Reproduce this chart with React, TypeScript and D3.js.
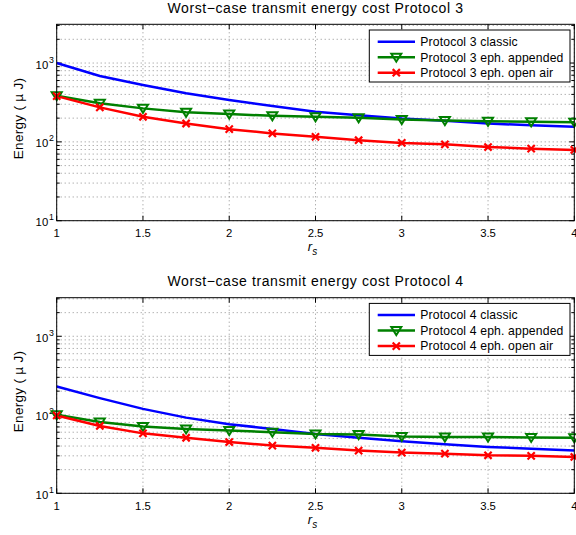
import * as d3 from "d3";

const rs = [1, 1.25, 1.5, 1.75, 2, 2.25, 2.5, 2.75, 3, 3.25, 3.5, 3.75, 4];

// Protocol 3 (micro J)
const p3Classic = [1000, 685, 526, 413, 340, 285, 241, 218, 198, 185, 171, 162, 155];
const p3Appended = [385, 308, 266, 237, 225, 214, 208, 202, 192, 186, 182, 180, 178];
const p3OpenAir = [380, 274, 208, 171, 145, 128, 116, 105, 97, 93, 86, 82, 79];

// Protocol 4 (micro J)
const p4Classic = [229, 163, 119, 92, 76, 66, 57, 51, 46, 42, 39, 37, 35];
const p4Appended = [100, 81, 71, 66, 63, 60, 57, 56, 53, 52, 52, 51.5, 51];
const p4OpenAir = [98, 72, 58, 51, 45, 40.5, 38, 35, 33, 32, 30.5, 30, 29];

const xTicks = [1, 1.5, 2, 2.5, 3, 3.5, 4];
const yDecades = [1, 2, 3];
const font = "'Liberation Sans', Arial, sans-serif";

type Series = { name: string; values: number[]; color: string; marker: "none" | "tri" | "x" };

function Panel({ top, bottom, title, series, clipId }: { top: number; bottom: number; title: string; series: Series[]; clipId: string }) {
  const left = 56.7;
  const right = 574.3;
  const x = d3.scaleLinear().domain([1, 4]).range([left, right]);
  const y = d3.scaleLog().domain([10, 3100]).range([bottom, top]);
  const line = d3.line<number>().x((_, i) => x(rs[i])).y((v) => y(v));

  const minor: number[] = [];
  for (let e = 1; e <= 3; e++) for (let m = 2; m <= 9; m++) {
    const v = m * Math.pow(10, e);
    if (v <= 3100) minor.push(v);
  }
  const majors = yDecades.map((e) => Math.pow(10, e));
  const cx = (left + right) / 2;
  const legX = 369.3, legY = top + 5.7, legW = 200.7, legH = 52;

  const marker = (s: Series, px: number, py: number, key: string) => {
    if (s.marker === "tri") {
      const r = 5;
      return <path key={key} d={`M${px - r},${py - r * 0.7}L${px + r},${py - r * 0.7}L${px},${py + r * 0.9}Z`} fill="none" stroke={s.color} strokeWidth={2} />;
    }
    if (s.marker === "x") {
      const r = 3.6;
      return <path key={key} d={`M${px - r},${py - r}L${px + r},${py + r}M${px - r},${py + r}L${px + r},${py - r}`} stroke={s.color} strokeWidth={2.2} />;
    }
    return null;
  };

  return (
    <g fontFamily={font}>
      <defs>
        <clipPath id={clipId}>
          <rect x={left} y={top} width={right - left} height={bottom - top} />
        </clipPath>
      </defs>
      <rect x={left} y={top} width={right - left} height={bottom - top} fill="#fff" />
      {/* grid */}
      {xTicks.map((t) => (
        <line key={"gx" + t} x1={x(t)} x2={x(t)} y1={top} y2={bottom} stroke="#444" strokeWidth={0.6} strokeDasharray="1,3" />
      ))}
      {[...minor, ...majors].map((v) => (
        <line key={"gy" + v} x1={left} x2={right} y1={y(v)} y2={y(v)} stroke="#444" strokeWidth={0.6} strokeDasharray="1,3" />
      ))}
      {/* ticks */}
      {xTicks.map((t) => (
        <g key={"tx" + t}>
          <line x1={x(t)} x2={x(t)} y1={bottom} y2={bottom - 5} stroke="#000" />
          <line x1={x(t)} x2={x(t)} y1={top} y2={top + 5} stroke="#000" />
          <text x={x(t)} y={bottom + 16.5} fontSize={11.3} textAnchor="middle">{t}</text>
        </g>
      ))}
      {majors.map((v) => (
        <g key={"ty" + v}>
          <line x1={left} x2={left + 5} y1={y(v)} y2={y(v)} stroke="#000" />
          <line x1={right} x2={right - 5} y1={y(v)} y2={y(v)} stroke="#000" />
        </g>
      ))}
      {minor.map((v) => (
        <g key={"tm" + v}>
          <line x1={left} x2={left + 3} y1={y(v)} y2={y(v)} stroke="#000" />
          <line x1={right} x2={right - 3} y1={y(v)} y2={y(v)} stroke="#000" />
        </g>
      ))}
      {yDecades.map((e) => (
        <text key={"yl" + e} x={left - 8.5} y={y(Math.pow(10, e)) + 5.6} fontSize={11.3} textAnchor="end">
          10
        </text>
      ))}
      {yDecades.map((e) => (
        <text key={"ye" + e} x={left - 7.7} y={y(Math.pow(10, e)) - 0.4} fontSize={8.8}>
          {e}
        </text>
      ))}
      {/* series */}
      <g clipPath={`url(#${clipId})`}>
        {series.map((s) => (
          <path key={s.name} d={line(s.values) || ""} fill="none" stroke={s.color} strokeWidth={2.5} />
        ))}
      </g>
      {series.map((s) => s.values.map((v, i) => marker(s, x(rs[i]), y(v), s.name + i)))}
      <rect x={left} y={top} width={right - left} height={bottom - top} fill="none" stroke="#000" strokeWidth={1} />
      {/* labels */}
      <text x={cx} y={top - 11.5} fontSize={14} letterSpacing={0.6} textAnchor="middle">{title}</text>
      <text x={cx - 3} y={bottom + 30.5} fontSize={13} fontStyle="italic" textAnchor="middle">
        r<tspan fontSize={10} dy={4}>s</tspan>
      </text>
      <text transform={`translate(22.5,${(top + bottom) / 2 - 4}) rotate(-90)`} fontSize={13.5} letterSpacing={0.3} textAnchor="middle">
        Energy ( µ J)
      </text>
      {/* legend */}
      <rect x={legX} y={legY} width={legW} height={legH} fill="#fff" stroke="#000" strokeWidth={1} />
      {series.map((s, i) => {
        const ly = legY + 11.7 + i * 15.5;
        return (
          <g key={"lg" + s.name}>
            <line x1={377.7} x2={415} y1={ly} y2={ly} stroke={s.color} strokeWidth={2.5} />
            {marker(s, 396.3, ly, "lm" + i)}
            <text x={420.3} y={ly + 4.3} fontSize={12.2} letterSpacing={0.15}>{s.name}</text>
          </g>
        );
      })}
    </g>
  );
}

export default function App() {
  const blue = "#0000ff", green = "#008000", red = "#ff0000";
  const s3: Series[] = [
    { name: "Protocol 3 classic", values: p3Classic, color: blue, marker: "none" },
    { name: "Protocol 3 eph. appended", values: p3Appended, color: green, marker: "tri" },
    { name: "Protocol 3 eph. open air", values: p3OpenAir, color: red, marker: "x" },
  ];
  const s4: Series[] = [
    { name: "Protocol 4 classic", values: p4Classic, color: blue, marker: "none" },
    { name: "Protocol 4 eph. appended", values: p4Appended, color: green, marker: "tri" },
    { name: "Protocol 4 eph. open air", values: p4OpenAir, color: red, marker: "x" },
  ];
  return (
    <svg width={576} height={535} style={{ position: "absolute", left: 0, top: 0, background: "#fff" }}>
      <Panel top={24.3} bottom={220.7} title="Worst−case transmit energy cost Protocol 3" series={s3} clipId="c3" />
      <Panel top={297.7} bottom={493.3} title="Worst−case transmit energy cost Protocol 4" series={s4} clipId="c4" />
    </svg>
  );
}
